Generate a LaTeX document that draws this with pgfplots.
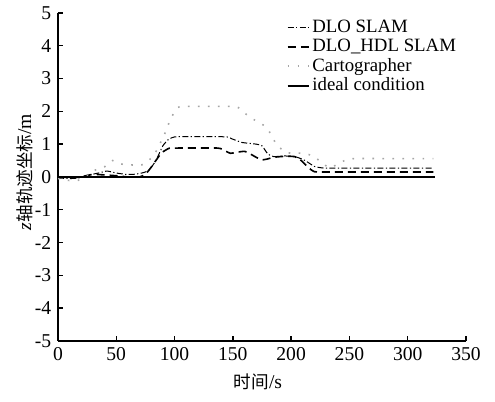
\documentclass[border=0pt]{standalone}
\usepackage{fontspec}
\setmainfont{Liberation Serif}
\newfontfamily\cjk{Noto Sans CJK SC}
\usepackage{pgfplots}
\pgfplotsset{compat=1.18}
\begin{document}
\fontsize{9.6}{11}\selectfont
\begin{tikzpicture}
\begin{axis}[
  scale only axis,
  width=204pt, height=164pt,
  xmin=0, xmax=350, ymin=-5, ymax=5,
  axis x line*=bottom, axis y line*=left,
  axis line style={line width=0.9pt},
  tick align=inside,
  major tick length=2.6pt,
  tick style={line width=0.7pt, black},
  xtick={0,50,...,350}, ytick={-5,-4,...,5},
  /pgf/number format/assume math mode=true,
  ticklabel style={font=\fontsize{9.8}{11}\selectfont},
  xlabel={{\cjk\fontsize{8.8}{10}\selectfont 时间}/s},
  ylabel={\textit{z}{\cjk\fontsize{8.8}{10}\selectfont 轴轨迹坐标}/m},
  xlabel style={xshift=-2pt, yshift=0pt},
  ylabel style={yshift=-5.5pt, xshift=2.5pt},
  label style={font=\fontsize{9.8}{11}\selectfont},
  legend style={draw=none, fill=none, at={(0.545,1.0)}, anchor=north west,
    font=\fontsize{9.4}{10}\selectfont, row sep=-1.2pt,
    nodes={inner ysep=1.5pt, inner xsep=1pt}},
  legend cell align=left,
  legend image code/.code={\draw[#1] (0cm,0cm) -- (0.38cm,0cm);},
  clip=false,
]
\addplot[black, line width=0.5pt, dash pattern=on 3pt off 1.2pt on 0.6pt off 1.2pt, smooth, tension=0.3] coordinates {
(0,-0.03) (10,-0.05) (18,-0.03) (25,0.05) (35,0.12) (42,0.18) (50,0.12) (58,0.08) (65,0.08) (72,0.12) (78,0.2) (84,0.5) (90,0.95) (95,1.15) (100,1.22) (110,1.23) (130,1.23) (145,1.22) (150,1.15) (158,1.05) (170,1.0) (175,0.95) (180,0.7) (185,0.62) (195,0.64) (205,0.6) (212,0.5) (220,0.32) (228,0.27) (240,0.27) (260,0.27) (300,0.27) (322,0.27)
};
\addlegendentry{DLO SLAM}
\addplot[black, line width=0.8pt, dash pattern=on 4pt off 2.5pt, smooth, tension=0.3] coordinates {
(0,0) (15,-0.02) (22,0.02) (30,0.08) (36,0.07) (45,0.05) (52,0.03) (60,0.0) (70,0.0) (75,0.08) (79,0.25) (82,0.4) (86,0.6) (89,0.74) (95,0.87) (100,0.88) (137,0.88) (143,0.8) (148,0.72) (153,0.75) (160,0.78) (165,0.7) (171,0.58) (175,0.52) (180,0.55) (185,0.6) (195,0.63) (203,0.62) (209,0.49) (215,0.28) (220,0.16) (230,0.15) (322,0.15)
};
\addlegendentry{DLO\_HDL SLAM}
\addplot[gray!70, line width=0.8pt, dash pattern=on 0.8pt off 4.2pt, smooth, tension=0.3] coordinates {
(0,-0.05) (8,-0.1) (15,-0.12) (22,-0.05) (28,0.1) (32,0.21) (40,0.31) (47,0.5) (52,0.42) (58,0.37) (72,0.37) (77,0.48) (82,0.65) (86,0.9) (92,1.35) (97,1.8) (103,2.12) (110,2.15) (130,2.15) (153,2.14) (160,1.95) (167,1.77) (175,1.61) (180,1.46) (184,1.2) (188,0.97) (196,0.74) (210,0.72) (219,0.64) (226,0.44) (233,0.28) (240,0.39) (247,0.52) (255,0.56) (280,0.56) (322,0.56)
};
\addlegendentry{Cartographer}
\addplot[black, line width=1pt] coordinates {(0,0) (323,0)};
\addlegendentry{ideal condition}
\path (rel axis cs:-0.142,-0.186) rectangle (rel axis cs:1.071,1.037);
\end{axis}
\end{tikzpicture}
\end{document}
